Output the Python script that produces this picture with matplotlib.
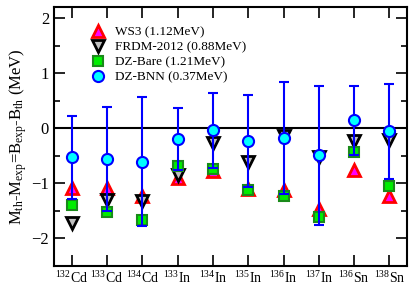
import matplotlib
matplotlib.use("Agg")
import matplotlib.pyplot as plt
import numpy as np
from matplotlib.ticker import MultipleLocator
from matplotlib.lines import Line2D

plt.rcParams['font.family'] = 'Liberation Serif'
plt.rcParams['mathtext.fontset'] = 'custom'
plt.rcParams['mathtext.rm'] = 'Liberation Serif'
plt.rcParams['mathtext.it'] = 'Liberation Serif'

# nuclei
nuclei = ["$^{132}$Cd", "$^{133}$Cd", "$^{134}$Cd", "$^{133}$In", "$^{134}$In",
          "$^{135}$In", "$^{136}$In", "$^{137}$In", "$^{136}$Sn", "$^{138}$Sn"]

# M_th - M_exp (MeV) for each model
ws3 = [-1.09, -1.08, -1.23, -0.90, -0.78, -1.11, -1.12, -1.46, -0.76, -1.23]
frdm = [-1.72, -1.30, -1.33, -0.85, -0.27, -0.62, -0.15, -0.52, -0.23, -0.22]
dz_bare = [-1.39, -1.52, -1.66, -0.69, -0.74, -1.12, -1.23, -1.61, -0.44, -1.05]
dz_bnn = [-0.53, -0.56, -0.61, -0.19, -0.04, -0.23, -0.18, -0.49, 0.14, -0.06]
dz_bnn_err = [0.75, 0.94, 1.17, 0.56, 0.68, 0.83, 1.02, 1.26, 0.63, 0.86]

x = np.arange(1, len(nuclei) + 1)

fig = plt.figure(figsize=(4.15, 2.9), dpi=100)
ax = fig.add_axes([0.130, 0.083, 0.851, 0.893])

ax.axhline(0, color="black", lw=1.5, zorder=1)

sty_ws3 = dict(marker="^", ms=9, mfc="magenta", mec="red", mew=2)
sty_frdm = dict(marker="v", ms=9, mfc="#c0c0c0", mec="black", mew=2)
sty_bare = dict(marker="s", ms=7.5, mfc="#00ee00", mec="#1a8a1a", mew=1.5)
sty_bnn = dict(marker="o", ms=8, mfc="cyan", mec="blue", mew=1.5)

ax.plot(x, ws3, ls="none", zorder=2, **sty_ws3)
ax.plot(x, frdm, ls="none", zorder=3, **sty_frdm)
ax.plot(x, dz_bare, ls="none", zorder=4, **sty_bare)
ax.errorbar(x, dz_bnn, yerr=dz_bnn_err, ls="none", ecolor="blue", elinewidth=1.5,
            capsize=3.5, capthick=1.5, zorder=5, **sty_bnn)

ax.set_xlim(0.5, 10.5)
ax.set_ylim(-2.5, 2.2)
ax.set_xticks(x)
ax.set_xticklabels(nuclei)
ax.yaxis.set_major_locator(MultipleLocator(1))
ax.yaxis.set_minor_locator(MultipleLocator(0.5))
ax.tick_params(which="both", direction="in", top=True, right=True, width=1.2)
ax.tick_params(which="major", length=8)
ax.tick_params(which="minor", length=4.5)
ax.tick_params(axis="y", labelsize=12)
ax.tick_params(axis="x", labelsize=10, pad=3)
for s in ax.spines.values():
    s.set_linewidth(1.5)

ax.set_ylabel("M$_{\\rm th}$-M$_{\\rm exp}$=B$_{\\rm exp}$-B$_{\\rm th}$ (MeV)",
              fontsize=12, labelpad=2)

handles = [Line2D([], [], ls="none", **sty_ws3),
           Line2D([], [], ls="none", **sty_frdm),
           Line2D([], [], ls="none", **sty_bare),
           Line2D([], [], ls="none", **sty_bnn)]
labels = ["WS3 (1.12MeV)", "FRDM-2012 (0.88MeV)", "DZ-Bare (1.21MeV)", "DZ-BNN (0.37MeV)"]
ax.legend(handles, labels, loc="upper left", bbox_to_anchor=(0.09, 0.945), frameon=False,
          fontsize=9.5, handletextpad=0.8, labelspacing=0.2, borderaxespad=0,
          handlelength=1.0)

fig.savefig("out.png", dpi=100)
